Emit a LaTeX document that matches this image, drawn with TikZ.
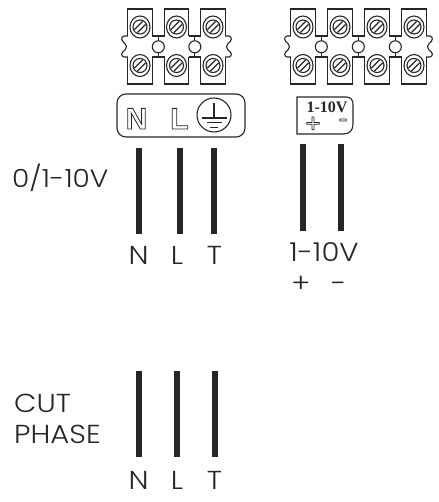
\documentclass[tikz,border=0pt]{standalone}
\usepackage{fontspec}
\setmainfont{Poppins Light}[FakeStretch=1.12]
\newfontfamily\boxfont{Liberation Sans}
\newfontfamily\tagfont{Liberation Serif}[BoldFont=* Bold]
\definecolor{inkgrey}{HTML}{262626}
\newcommand{\hollowtext}[1]{\special{pdf:code q 1 Tr 0.8 w}#1\special{pdf:code Q}}
\newcommand{\termblock}[2]{%
	\foreach \cx [count=\ci] in {#1}{
		\draw[block_style] (\cx-12.2,36) |- (\cx+12.2,9) -- (\cx+12.2,36);
		\draw[block_style] (\cx-12.2,57) |- (\cx+12.2,84) -- (\cx+12.2,57);
		\draw[block_style] (\cx,27) ellipse (10 and 11);
		\draw[block_style] (\cx,27) circle (7);
		\draw[block_style] (\cx-5.6,29.6) -- (\cx+2.6,21.4);
		\draw[block_style] (\cx-2.6,32.6) -- (\cx+5.6,24.4);
		\draw[block_style] (\cx,65.5) ellipse (10 and 11);
		\draw[block_style] (\cx,65.5) circle (7);
		\draw[block_style] (\cx-5.6,68.1) -- (\cx+2.6,59.9);
		\draw[block_style] (\cx-2.6,71.1) -- (\cx+5.6,62.9);
		\ifnum\ci<#2
			\draw[block_style] (\cx+12.2,36) -- (\cx+24.5,36);
			\draw[block_style] (\cx+12.2,57) -- (\cx+24.5,57);
			\draw[block_style] (\cx+18.3,36) -- (\cx+18.3,57);
			\draw[block_style, fill=white] (\cx+18.3,46.8) circle (6);
		\fi
		\ifnum\ci=1
			\draw[block_style] (\cx-12.2,36) -- (\cx-16,36) .. controls (\cx-19.5,37) and (\cx-19,41) .. (\cx-15,43.5) .. controls (\cx-13,45.5) and (\cx-13,48) .. (\cx-15,50) .. controls (\cx-19,52.5) and (\cx-19.5,56) .. (\cx-16,57) -- (\cx-12.2,57);
		\fi
		\ifnum\ci=#2
			\draw[block_style] (\cx+12.2,36) -- (\cx+16,36) .. controls (\cx+19.5,37) and (\cx+19,41) .. (\cx+15,43.5) .. controls (\cx+13,45.5) and (\cx+13,48) .. (\cx+15,50) .. controls (\cx+19,52.5) and (\cx+19.5,56) .. (\cx+16,57) -- (\cx+12.2,57);
		\fi
	}%
}
\begin{document}
\begin{tikzpicture}[
	x=1pt,
	y=-1pt,
	block_style/.style={draw=inkgrey, line width=1.1pt},
	wire_style/.style={draw=inkgrey, line width=5.5pt},
	label_style/.style={text=inkgrey, font=\fontsize{26}{26}\selectfont, inner sep=0pt, anchor=base},
	side_style/.style={label_style, anchor=base west},
	plate_style/.style={font=\boxfont\bfseries\fontsize{30}{30}\selectfont, text=inkgrey, inner sep=0pt, anchor=base}
	]
	\useasboundingbox (0,0) rectangle (438,502);

	% terminal blocks
	\termblock{140,176.5,213}{3}
	\termblock{303,340,377,414}{4}

	% symbol plates
	\draw[block_style, rounded corners=9pt] (117,94) rectangle (245,137);
	\node[plate_style] (plateN) at (136.5,129) {\hollowtext{N}};
	\node[plate_style] (plateL) at (179.5,129) {\hollowtext{L}};
	\draw[block_style] (214,115) circle (17);
	\draw[block_style] (214,103) -- (214,118);
	\draw[block_style] (201.5,118) -- (226.5,118);
	\draw[block_style] (206.5,122.7) -- (221.5,122.7);
	\draw[block_style] (210,127.3) -- (218,127.3);

	\draw[block_style] (353,105) .. controls (353,100) and (351,97) .. (346,97) -- (297,97) -- (297,134) -- (343,134) .. controls (350,134) and (353,130) .. (353,124) -- cycle;
	\node[font=\tagfont\bfseries\fontsize{16}{16}\selectfont, text=inkgrey, inner sep=0pt, anchor=base] (plateV) at (327,113) {1-10V};
	\node[plate_style, font=\boxfont\fontsize{26}{26}\selectfont, anchor=center] (plateP) at (313,124.5) {\hollowtext{+}};
	\node[plate_style, font=\boxfont\fontsize{26}{26}\selectfont, anchor=center] (plateM) at (343,123) {\hollowtext{-}};

	% wires
	\foreach \wx/\wname in {139/a,180/b,214/c}{
		\coordinate (top\wname) at (\wx,148);
		\coordinate (bot\wname) at (\wx,234);
		\draw[wire_style] (top\wname) -- (bot\wname);
	}
	\foreach \wx/\wname in {303/d,341/e}{
		\coordinate (top\wname) at (\wx,144);
		\coordinate (bot\wname) at (\wx,231);
		\draw[wire_style] (top\wname) -- (bot\wname);
	}
	\foreach \wx/\wname in {139/f,177/g,215/h}{
		\coordinate (top\wname) at (\wx,371);
		\coordinate (bot\wname) at (\wx,457);
		\draw[wire_style] (top\wname) -- (bot\wname);
	}

	% labels
	\node[side_style, font=\fontsize{25}{25}\selectfont] (dim) at (12,188) {0/1-10V};
	\node[label_style] (n1) at (138.5,264) {N};
	\node[label_style] (l1) at (177,264) {L};
	\node[label_style] (t1) at (214.5,264) {T};
	\node[label_style] (volt) at (324,261) {1-10V};
	\node[label_style] (plus) at (301,292.5) {+};
	\node[label_style] (minus) at (339,292.5) {-};
	\node[side_style] (cut) at (14,412) {CUT};
	\node[side_style] (phase) at (14,443) {PHASE};
	\node[label_style] (n2) at (138.5,489) {N};
	\node[label_style] (l2) at (177,489) {L};
	\node[label_style] (t2) at (214.5,489) {T};
\end{tikzpicture}
\end{document}
